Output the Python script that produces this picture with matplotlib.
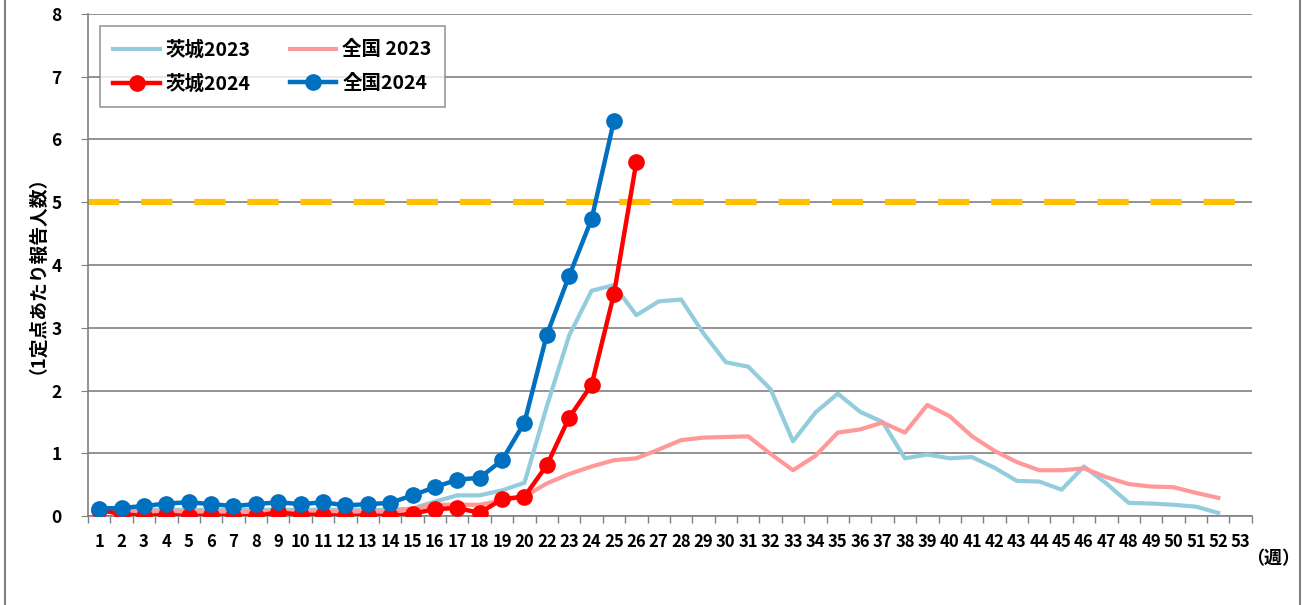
import numpy as np
import matplotlib.pyplot as plt
from matplotlib.patches import Rectangle

plt.rcParams['font.family'] = ['Noto Sans CJK JP', 'DejaVu Sans']

# x categories (week 21 label is missing in the original)
weeks = [str(w) for w in range(1, 21)] + [str(w) for w in range(22, 54)]

ibaraki_2023 = [0.12, 0.10, 0.10, 0.10, 0.10, 0.10, 0.10, 0.10, 0.10, 0.10,
                0.10, 0.10, 0.10, 0.10, 0.12, 0.23, 0.33, 0.33, 0.41, 0.53,
                1.75, 2.88, 3.59, 3.68, 3.20, 3.42, 3.45, 2.91, 2.45, 2.38,
                2.02, 1.19, 1.65, 1.95, 1.66, 1.50, 0.92, 0.98, 0.92, 0.94,
                0.77, 0.56, 0.55, 0.42, 0.79, 0.52, 0.21, 0.20, 0.18, 0.15,
                0.05, np.nan]
zenkoku_2023 = [0.08, 0.07, 0.07, 0.07, 0.07, 0.07, 0.07, 0.07, 0.07, 0.07,
                0.07, 0.07, 0.07, 0.07, 0.12, 0.18, 0.18, 0.18, 0.25, 0.31,
                0.52, 0.67, 0.79, 0.89, 0.92, 1.06, 1.21, 1.25, 1.26, 1.27,
                0.99, 0.73, 0.96, 1.33, 1.38, 1.49, 1.33, 1.77, 1.59, 1.27,
                1.04, 0.86, 0.73, 0.73, 0.76, 0.62, 0.51, 0.47, 0.46, 0.37,
                0.29, np.nan]
ibaraki_2024 = [0.10, 0.03, 0.00, 0.02, 0.00, 0.01, 0.00, 0.00, 0.06, 0.02,
                0.02, 0.00, 0.01, 0.00, 0.04, 0.11, 0.13, 0.05, 0.27, 0.31,
                0.81, 1.57, 2.09, 3.54, 5.64] + [np.nan] * 27
zenkoku_2024 = [0.12, 0.13, 0.16, 0.20, 0.22, 0.19, 0.16, 0.19, 0.22, 0.19,
                0.22, 0.17, 0.19, 0.21, 0.33, 0.46, 0.58, 0.61, 0.89, 1.49,
                2.89, 3.83, 4.73, 6.30] + [np.nan] * 28

alert_level = 5

x = np.arange(len(weeks))

fig = plt.figure(figsize=(13.04, 6.05), dpi=100)
ax = fig.add_axes([0.0675, 0.147, 0.8925, 0.830])

ax.axhline(alert_level, color='#FFC000', lw=4.5, dashes=(5, 3.5), zorder=2)

l1, = ax.plot(x, ibaraki_2023, color='#93CDDD', lw=3, label='茨城2023', zorder=3)
l2, = ax.plot(x, zenkoku_2023, color='#FF9999', lw=3, label='全国 2023', zorder=3)
l3, = ax.plot(x, ibaraki_2024, color='#FF0000', lw=3.2, marker='o', ms=11,
              label='茨城2024', zorder=4)
l4, = ax.plot(x, zenkoku_2024, color='#0070C0', lw=3.2, marker='o', ms=11,
              label='全国2024', zorder=5)

ax.set_xlim(-0.5, len(weeks) - 0.5)
ax.set_ylim(0, 8)
ax.set_yticks(range(0, 9))
ax.set_xticks(x)
ax.set_xticklabels(weeks)
ax.set_xticks(np.arange(-0.5, len(weeks), 1), minor=True)
ax.tick_params(axis='x', which='major', length=0, pad=12, labelsize=12)
ax.tick_params(axis='x', which='minor', length=5, color='#808080', width=1)
ax.tick_params(axis='y', length=5, color='#808080', labelsize=12.5, pad=14)
for lab in ax.get_xticklabels() + ax.get_yticklabels():
    lab.set_fontweight('bold')

ax.grid(axis='y', color='#808080', lw=1.2)
ax.set_axisbelow(True)
for s in ['top', 'right']:
    ax.spines[s].set_visible(False)
ax.spines['left'].set_color('#808080')
ax.spines['bottom'].set_color('#808080')
ax.spines['left'].set_linewidth(1.2)
ax.spines['bottom'].set_linewidth(1.2)

ax.set_ylabel('（1定点あたり報告人数）', fontsize=13.5, fontweight='bold', labelpad=10)
ax.text(0.995, -0.065, '（週）', transform=ax.transAxes, fontsize=13,
        fontweight='bold', va='top', ha='left')

# legend order: row 1 = 2023, row 2 = 2024
leg = ax.legend([l1, l3, l2, l4], ['茨城2023', '茨城2024', '全国 2023', '全国2024'],
                loc='upper left', bbox_to_anchor=(0.010, 0.975), ncol=2,
                fontsize=14, frameon=True, fancybox=False, edgecolor='#808080',
                handlelength=2.4, columnspacing=2.0, borderpad=0.7,
                labelspacing=0.75, handletextpad=0.3, borderaxespad=0)
leg.get_frame().set_linewidth(1.2)
for t in leg.get_texts():
    t.set_fontweight('bold')

fig.patches.append(Rectangle((0.004, -0.1), 0.993, 1.2, transform=fig.transFigure,
                             fill=False, edgecolor='#808080', lw=1.5))

fig.savefig('out.png', dpi=100)
